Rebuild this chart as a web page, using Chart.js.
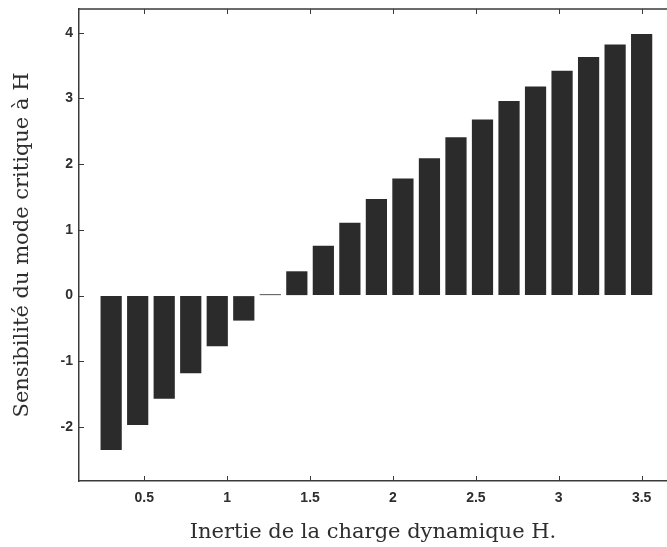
<!DOCTYPE html>
<html>
<head>
<meta charset="utf-8">
<script src="https://cdn.jsdelivr.net/npm/chart.js@4"></script>
<style>
  html, body { margin: 0; padding: 0; background: #fff; }
  #wrap { width: 667px; height: 547px; position: relative; }
</style>
</head>
<body>
<div id="wrap"><canvas id="c"></canvas></div>
<script>
// Inertie H (x) and sensitivity of the critical mode (y)
const inertia = [0.3, 0.46, 0.62, 0.78, 0.94, 1.1, 1.26, 1.42, 1.58, 1.74, 1.9,
                 2.06, 2.22, 2.38, 2.54, 2.7, 2.86, 3.02, 3.18, 3.34, 3.5];
const sensitivity = [-2.35, -1.97, -1.57, -1.18, -0.77, -0.38, 0.02, 0.37, 0.76, 1.11, 1.47,
                     1.78, 2.09, 2.41, 2.68, 2.96, 3.18, 3.42, 3.63, 3.82, 3.98];
const xTicks = [0.5, 1, 1.5, 2, 2.5, 3, 3.5];
const yTicks = [-2, -1, 0, 1, 2, 3, 4];

const axisColor = '#3a3a3a';
const textColor = '#2e2e2e';

// small inward tick marks + top frame line
const frameTicks = {
    id: 'frameTicks',
    afterDraw(chart) {
        const { ctx, chartArea: a, scales } = chart;
        ctx.save();
        ctx.strokeStyle = axisColor;
        ctx.lineWidth = 1.5;
        ctx.beginPath();
        ctx.moveTo(a.left, a.top);
        ctx.lineTo(a.right, a.top);
        ctx.stroke();
        ctx.lineWidth = 1;
        ctx.beginPath();
        xTicks.forEach(v => {
            const px = Math.round(scales.x.getPixelForValue(v)) + 0.5;
            ctx.moveTo(px, a.bottom);
            ctx.lineTo(px, a.bottom - 5);
            ctx.moveTo(px, a.top);
            ctx.lineTo(px, a.top + 5);
        });
        yTicks.forEach(v => {
            const py = Math.round(scales.y.getPixelForValue(v)) + 0.5;
            ctx.moveTo(a.left - 1, py);
            ctx.lineTo(a.left + 5, py);
        });
        ctx.stroke();
        ctx.restore();
    }
};

new Chart(document.getElementById('c'), {
    type: 'bar',
    data: {
        datasets: [{
            data: inertia.map((h, i) => ({ x: h, y: sensitivity[i] })),
            backgroundColor: '#2b2b2b',
            borderWidth: 0,
            barPercentage: 0.8,
            categoryPercentage: 1
        }]
    },
    options: {
        responsive: true,
        maintainAspectRatio: false,
        animation: false,
        layout: { padding: { top: 9, right: 0, left: 0, bottom: 0 } },
        plugins: { legend: { display: false }, tooltip: { enabled: false } },
        scales: {
            x: {
                type: 'linear',
                offset: false,
                min: 0.106,
                max: 3.653,
                afterBuildTicks: (s) => { s.ticks = xTicks.map(v => ({ value: v })); },
                afterFit: (s) => { s.height = 66; s.paddingLeft = 0; s.paddingRight = 0; },
                grid: { display: true, drawOnChartArea: false, drawTicks: false },
                border: { display: true, color: axisColor, width: 1.5 },
                ticks: {
                    padding: 9,
                    color: textColor,
                    font: { family: 'Liberation Sans', size: 14, weight: 'bold' },
                    maxRotation: 0,
                    callback: (v) => String(v)
                },
                title: {
                    display: true,
                    text: 'Inertie de la charge dynamique H.',
                    color: textColor,
                    font: { family: 'DejaVu Serif', size: 21 },
                    padding: { top: 0, bottom: 2 }
                }
            },
            y: {
                min: -2.82,
                max: 4.36,
                afterBuildTicks: (s) => { s.ticks = yTicks.map(v => ({ value: v })); },
                afterFit: (s) => { s.width = 79; s.paddingTop = 0; s.paddingBottom = 0; },
                grid: { display: true, drawOnChartArea: false, drawTicks: false },
                border: { display: true, color: axisColor, width: 1.5 },
                ticks: {
                    padding: 6,
                    color: textColor,
                    font: { family: 'Liberation Sans', size: 14, weight: 'bold' },
                    callback: (v) => String(v)
                },
                title: {
                    display: true,
                    text: 'Sensibilité du mode critique à H',
                    color: textColor,
                    font: { family: 'DejaVu Serif', size: 21 },
                    padding: { top: 10, bottom: 0 }
                }
            }
        }
    },
    plugins: [frameTicks]
});
</script>
</body>
</html>
